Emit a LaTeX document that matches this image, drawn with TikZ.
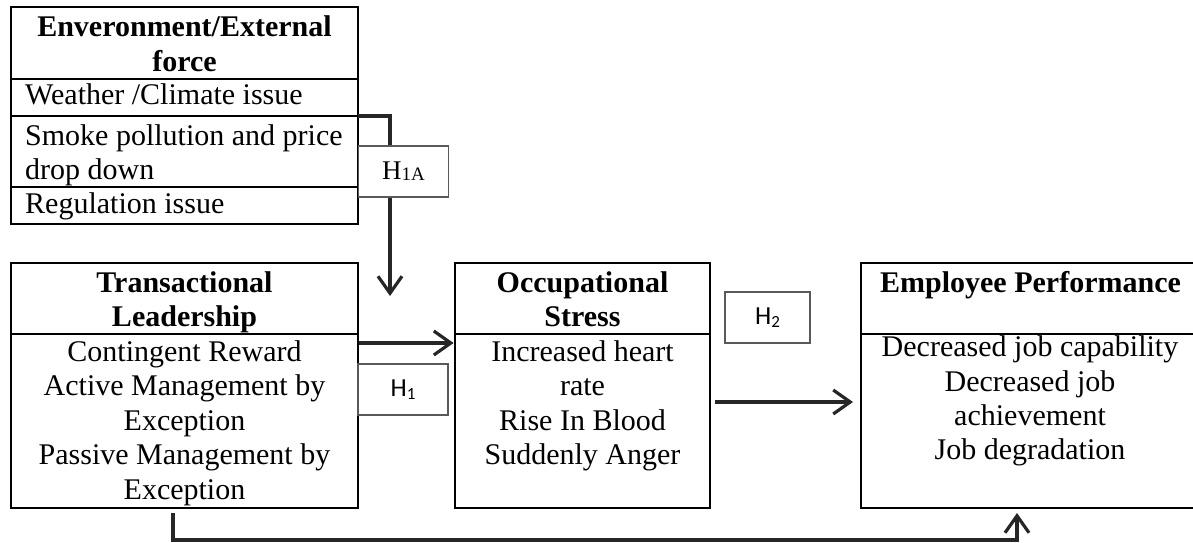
\documentclass[tikz,border=0pt]{standalone}
\usepackage{fontspec}
\setmainfont{Liberation Serif}
\newfontfamily\calib{Carlito}
\newfontfamily\hserif{Liberation Serif}
\usetikzlibrary{arrows.meta}
\tikzset{
  box/.style={draw, line width=2.8pt, inner sep=0pt},
  rule/.style={line width=2.8pt},
  txt/.style={font=\fontsize{30}{34.4}\selectfont, inner sep=0pt, anchor=base},
  lefttxt/.style={txt, anchor=base west},
  hd/.style={font=\fontsize{30}{34.4}\selectfont\bfseries, inner sep=0pt, anchor=base},
  conn/.style={line width=3.2pt, draw=black!85, -{Straight Barb[length=17pt,width=24pt,line width=3.2pt]}},
  hbox/.style={draw=black!65, line width=1.4pt, fill=white, inner sep=0pt, minimum height=51pt},
}
\begin{document}
\begin{tikzpicture}[x=1pt,y=-1pt]
\useasboundingbox (0,0) rectangle (1193,543);
\clip (0,0) rectangle (1193,543);

% Environment box
\node[box, minimum width=347pt, minimum height=217pt] (env) at (184.5,115.5) {};
\draw[rule] (env.west |- 0,79) -- (env.east |- 0,79);
\draw[rule] (env.west |- 0,116) -- (env.east |- 0,116);
\draw[rule] (env.west |- 0,187) -- (env.east |- 0,187);
\node[hd] (envh1) at (184.5,36.7) {Enveronment/External};
\node[hd] (envh2) at (184.5,71) {force};
\node[lefttxt] (env1) at (25,104) {Weather /Climate issue};
\node[lefttxt] (env2) at (25,145) {Smoke pollution and price};
\node[lefttxt] (env3) at (25,179) {drop down};
\node[lefttxt] (env4) at (25,213) {Regulation issue};

% Transactional Leadership
\node[box, minimum width=347pt, minimum height=245pt] (tl) at (184.5,385.5) {};
\draw[rule] (tl.west |- 0,334) -- (tl.east |- 0,334);
\node[hd] (tlh1) at (184.5,292) {Transactional};
\node[hd] (tlh2) at (184.5,326.4) {Leadership};
\node[txt] (tl1) at (184.5,361.5) {Contingent Reward};
\node[txt] (tl2) at (184.5,395.9) {Active Management by};
\node[txt] (tl3) at (184.5,430.3) {Exception};
\node[txt] (tl4) at (184.5,464.7) {Passive Management by};
\node[txt] (tl5) at (184.5,499.1) {Exception};

% Occupational Stress
\node[box, minimum width=255pt, minimum height=245pt] (os) at (582.5,385.5) {};
\draw[rule] (os.west |- 0,334) -- (os.east |- 0,334);
\node[hd] (osh1) at (582.5,292) {Occupational};
\node[hd] (osh2) at (582.5,326.4) {Stress};
\node[txt] (os1) at (582.5,361.5) {Increased heart};
\node[txt] (os2) at (582.5,395.9) {rate};
\node[txt] (os3) at (582.5,430.3) {Rise In Blood};
\node[txt] (os4) at (582.5,464.7) {Suddenly Anger};

% Employee Performance
\node[box, minimum width=338pt, minimum height=245pt] (ep) at (1030,385.5) {};
\draw[rule] (ep.west |- 0,334) -- (ep.east |- 0,334);
\node[hd] (eph1) at (1030.5,292) {Employee Performance};
\node[txt] (ep1) at (1030,356.7) {Decreased job capability};
\node[txt] (ep2) at (1030,391.1) {Decreased job};
\node[txt] (ep3) at (1030,425.5) {achievement};
\node[txt] (ep4) at (1030,459.9) {Job degradation};

% Connectors
\coordinate (a0) at (358,116);
\coordinate (a1) at (390,296);
\draw[conn] (a0) -| (a1);

\draw[conn] (tl.east |- 0,343) -- (os.west |- 0,343);

\coordinate (b0) at (715,402);
\coordinate (b1) at (853,402);
\draw[conn] (b0) -- (b1);

\coordinate (c0) at (173,513);
\coordinate (c1) at (1017,513);
\draw[conn] (c0) -- (173,540) -| (c1);

% Hypothesis labels
\node[hbox, minimum width=90pt] (h1a) at (403.5,171.5) {\hserif\fontsize{27}{27}\selectfont H\raisebox{-1pt}{\fontsize{19}{19}\selectfont 1A}};
\node[hbox, minimum width=90pt] (h1) at (403,389.5) {\calib\fontsize{26}{26}\selectfont H\raisebox{-3pt}{\fontsize{17}{17}\selectfont 1}};
\node[hbox, minimum width=85pt] (h2) at (767.5,317.5) {\calib\fontsize{26}{26}\selectfont H\raisebox{-3pt}{\fontsize{17}{17}\selectfont 2}};
\end{tikzpicture}
\end{document}
